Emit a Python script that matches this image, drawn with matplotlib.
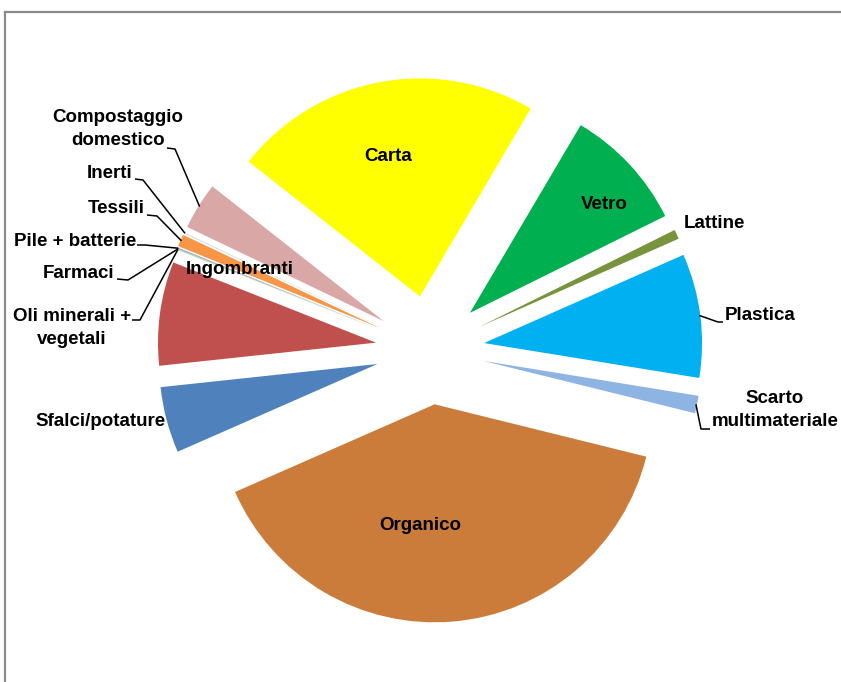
import matplotlib
matplotlib.use("Agg")
import matplotlib.pyplot as plt
from matplotlib.lines import Line2D
import numpy as np

# ---- data ----
categories = ["Carta", "Vetro", "Lattine", "Plastica", "Scarto\nmultimateriale",
              "Organico", "Sfalci/potature", "Ingombranti", "Oli minerali +\nvegetali",
              "Farmaci", "Pile + batterie", "Tessili", "Inerti", "Compostaggio\ndomestico"]
values = [22.9, 9.2, 0.7, 9.2, 1.3, 39.6, 4.9, 7.7, 0.07, 0.03, 0.04, 0.9, 0.08, 3.5]
colors = ["#FFFF00", "#00B050", "#77933C", "#00B0F0", "#8DB4E2",
          "#CC7C3A", "#4F81BD", "#C0504D", "#C3D69B", "#4BACC6",
          "#8064A2", "#F79646", "#D9D9D9", "#D8A7A6"]

W, H = 841, 682
CX, CY, R = 430, 350, 218   # pie centre / radius in pixels

fig = plt.figure(figsize=(W / 100, H / 100), dpi=100)
ax = fig.add_axes([0, 0, 1, 1])

wedges, _ = ax.pie(values, explode=[0.25] * len(values), colors=colors,
                   startangle=141.8, counterclock=False, radius=1,
                   center=(0, 0), wedgeprops=dict(linewidth=0))
ax.set_xlim(-CX / R, (W - CX) / R)
ax.set_ylim(-(H - CY) / R, CY / R)
ax.set_aspect("auto")
ax.axis("off")


def P(x, y):
    return ((x - CX) / R, (CY - y) / R)


FONT = ["Liberation Sans", "DejaVu Sans"]
FS = 13.5

# label positions (pixel centres) and optional leader elbows
label_pos = {
    "Carta": (388, 157),
    "Vetro": (604, 205),
    "Lattine": (714, 224),
    "Plastica": (760, 316),
    "Scarto\nmultimateriale": (775, 410),
    "Organico": (420, 525),
    "Sfalci/potature": (101, 422),
    "Ingombranti": (240, 270),
    "Oli minerali +\nvegetali": (72, 328),
    "Farmaci": (79, 274),
    "Pile + batterie": (75, 242),
    "Tessili": (116, 209),
    "Inerti": (110, 174),
    "Compostaggio\ndomestico": (118, 129),
}
leaders = {
    "Compostaggio\ndomestico": [(167, 148), (175, 149)],
    "Inerti": [(135, 179), (143, 180)],
    "Tessili": [(147, 215), (157, 216)],
    "Pile + batterie": [(137, 245), (145, 245)],
    "Farmaci": [(117, 279), (128, 280)],
    "Oli minerali +\nvegetali": [(132, 320), (140, 320)],
    "Plastica": [(723, 322), (718, 322)],
    "Scarto\nmultimateriale": [(710, 429), (701, 429)],
}

for i, cat in enumerate(categories):
    x, y = P(*label_pos[cat])
    ax.text(x, y, cat, ha="center", va="center", multialignment="center",
            fontsize=FS, fontweight="bold", family=FONT, color="black",
            linespacing=1.4, zorder=5)
    if cat in leaders:
        w = wedges[i]
        mid = np.deg2rad((w.theta1 + w.theta2) / 2)
        cx, cy = w.center
        tx, ty = cx + 0.995 * np.cos(mid), cy + 0.995 * np.sin(mid)
        pts = [P(*p) for p in leaders[cat]] + [(tx, ty)]
        xs, ys = zip(*pts)
        ax.plot(xs, ys, color="black", lw=1.1, solid_capstyle="butt")

# chart-area border (top and left edges visible)
fig.add_artist(Line2D([5 / W, 5 / W], [0, (H - 12) / H], color="#8A8A8A",
                      lw=1.6, transform=fig.transFigure))
fig.add_artist(Line2D([5 / W, 1], [(H - 12) / H, (H - 12) / H], color="#8A8A8A",
                      lw=1.6, transform=fig.transFigure))

fig.savefig("out.png", dpi=100)
